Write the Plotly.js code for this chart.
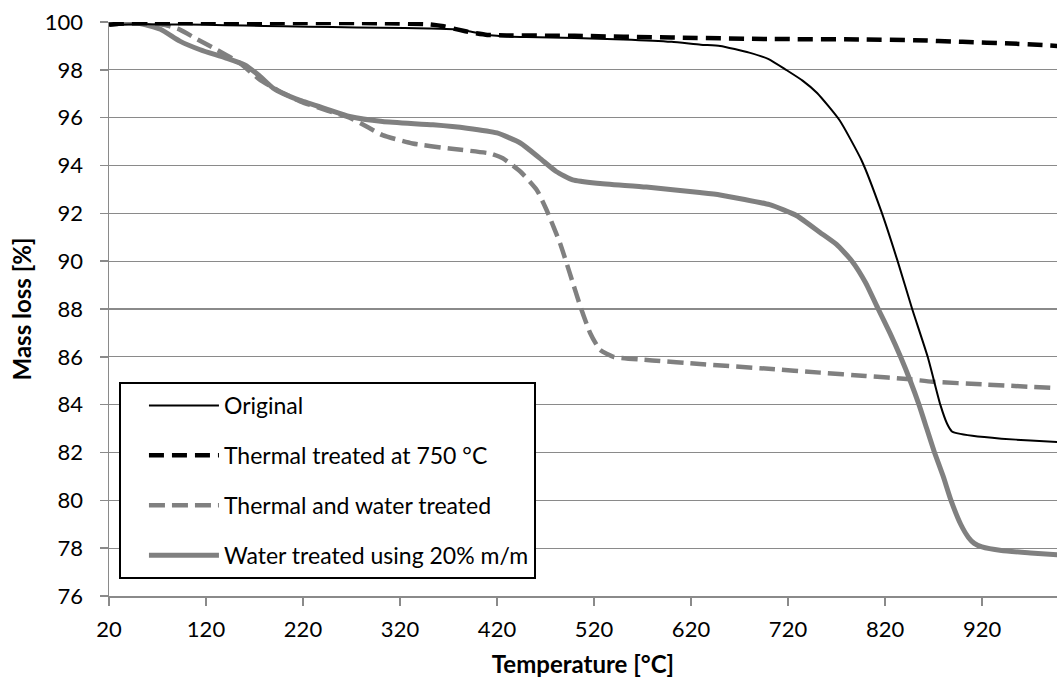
<!DOCTYPE html>
<html>
<head>
<meta charset="utf-8">
<script src="https://cdn.plot.ly/plotly-3.0.1.min.js"></script>
<style>html,body{margin:0;padding:0;background:#fff;}#chart{width:1057px;height:678px;}</style>
</head>
<body>
<div id="chart"></div>
<script>
// Series names
const seriesNames = ["Original", "Thermal treated at 750 °C", "Thermal and water treated", "Water treated using 20% m/m"];

// Original
const tOriginal = [20,40,80,120,160,200,250,300,350,375,390,405,420,450,500,550,600,630,650,680,700,718,735,750,773,796,816,833,848,864,877,884,889,895,910,940,970,998];
const mOriginal = [99.87,99.9,99.9,99.88,99.85,99.82,99.79,99.76,99.73,99.7,99.62,99.5,99.42,99.37,99.33,99.27,99.17,99.05,99.0,98.72,98.45,98.0,97.55,97.03,95.9,94.2,92.1,90.0,88.0,86.0,84.0,83.2,82.88,82.8,82.7,82.58,82.5,82.44];

// Thermal treated at 750 °C
const tThermal = [20,30,60,100,200,300,350,365,380,395,410,430,500,600,700,800,850,900,950,998];
const mThermal = [99.88,99.93,99.96,99.96,99.96,99.95,99.9,99.82,99.68,99.55,99.46,99.44,99.42,99.35,99.29,99.27,99.24,99.17,99.1,99.0];

// Thermal and water treated
const tThermalWater = [20,40,62,80,93,110,131,155,175,193,217,245,268,286,302,333,371,413,426,444,461,471,485,495,506,516,526,540,580,629,700,753,800,846,869,920,998];
const mThermalWater = [99.98,99.98,99.96,99.85,99.68,99.3,98.84,98.28,97.6,97.17,96.68,96.3,96.0,95.62,95.27,94.92,94.71,94.5,94.3,93.75,92.98,92.15,90.75,89.5,88.1,87.0,86.3,86.0,85.85,85.7,85.5,85.34,85.2,85.06,84.96,84.85,84.69];

// Water treated using 20% m/m
const tWater = [20,50,73,93,114,140,160,175,189,200,217,245,268,302,354,389,420,444,464,481,498,523,574,629,650,701,729,753,770,786,800,813,825,836,846,855,863,871,880,888,898,906,912,920,940,970,998];
const mWater = [99.98,99.95,99.7,99.2,98.84,98.5,98.2,97.75,97.24,97.0,96.72,96.35,96.05,95.84,95.7,95.56,95.36,94.94,94.31,93.75,93.4,93.26,93.1,92.87,92.77,92.36,91.9,91.2,90.7,90.0,89.1,88.0,87.0,86.0,85.0,84.0,83.0,82.0,81.0,80.0,79.0,78.45,78.2,78.05,77.9,77.8,77.72];

// Axis ticks
const xTicks = [20,120,220,320,420,520,620,720,820,920];
const yTicks = [76,78,80,82,84,86,88,90,92,94,96,98,100];

const gray = "#808080";
const gridGray = "#8a8a8a";

const traces = [
  {x: tWater, y: mWater, name: seriesNames[3], legendgroup: "g4", legendrank: 4, mode: "lines", line: {color: gray, width: 5, shape: "spline", smoothing: 0.5}},
  {x: tThermalWater, y: mThermalWater, name: seriesNames[2], legendgroup: "g3", legendrank: 3, mode: "lines", line: {color: gray, width: 4.5, dash: "16px,7px", shape: "spline", smoothing: 0.5}},
  {x: tThermal, y: mThermal, name: seriesNames[1], legendgroup: "g2", legendrank: 2, mode: "lines", line: {color: "#000", width: 4.5, dash: "15px,8px", shape: "spline", smoothing: 0.5}},
  {x: tOriginal, y: mOriginal, name: seriesNames[0], legendgroup: "g1", legendrank: 1, mode: "lines", line: {color: "#000", width: 2, shape: "spline", smoothing: 0.5}}
];

const layout = {
  width: 1057, height: 678,
  margin: {l: 109, r: 0, t: 22, b: 82},
  paper_bgcolor: "#fff", plot_bgcolor: "#fff",
  font: {family: "Lato, 'Open Sans', sans-serif", size: 22, color: "#000"},
  showlegend: true,
  legend: {
    x: 0.0105, y: 0.3728, xanchor: "left", yanchor: "top",
    bgcolor: "#fff", bordercolor: "#000", borderwidth: 2,
    font: {size: 23, color: "#000"},
    traceorder: "grouped", tracegroupgap: 17, itemwidth: 70, indentation: 23
  },
  xaxis: {
    range: [20, 997.3], tickvals: xTicks, ticktext: xTicks.map(String),
    showgrid: false, zeroline: false,
    showline: true, linecolor: gridGray, linewidth: 1.5,
    ticks: "outside", ticklen: 8, tickcolor: gridGray, tickwidth: 1.5,
    tickfont: {size: 22}, ticklabelstandoff: 5,
    title: {text: "Temperature [°C]", font: {size: 24, weight: "bold"}, standoff: 20}
  },
  yaxis: {
    range: [76, 100], tickvals: yTicks, ticktext: yTicks.map(String),
    showgrid: true, gridcolor: gridGray, gridwidth: 1.3, zeroline: false,
    showline: true, linecolor: gridGray, linewidth: 1.5,
    ticks: "outside", ticklen: 8, tickcolor: gridGray, tickwidth: 1.5,
    tickfont: {size: 22}, ticklabelstandoff: 12,
    title: {text: "Mass loss [%]", font: {size: 24, weight: "bold"}, standoff: 6}
  }
};

Plotly.newPlot("chart", traces, layout, {staticPlot: true, displayModeBar: false});
</script>
</body>
</html>
